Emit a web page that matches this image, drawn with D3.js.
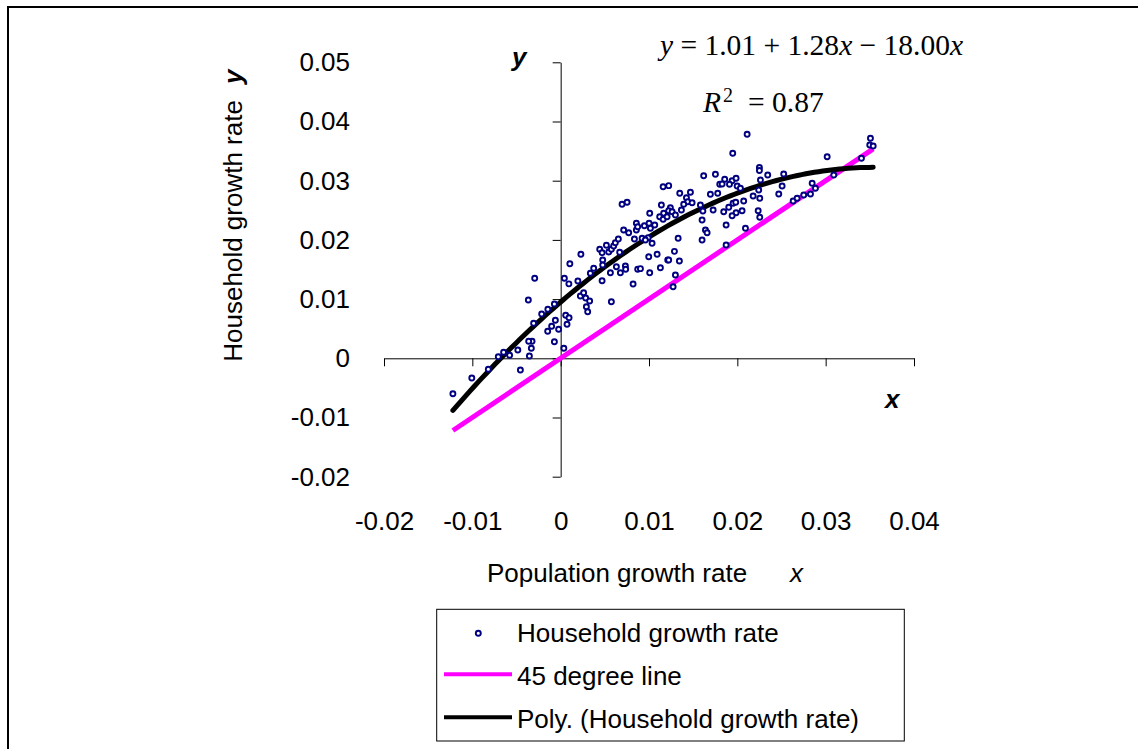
<!DOCTYPE html>
<html><head><meta charset="utf-8">
<script src="https://cdn.jsdelivr.net/npm/d3@7/dist/d3.min.js"></script>
<style>
body{margin:0;background:#fff}
svg{display:block}
text{font-family:"Liberation Sans",Arial,sans-serif;fill:#000}
.eq{font-family:"Liberation Serif","Times New Roman",serif}
</style>
</head><body>
<svg id="chart" width="1138" height="749"></svg>
<script>
// ---- data ----
const popGrowth = [
-0.01220,-0.01006,-0.00819,-0.00706,-0.00646,-0.00578,-0.00485,-0.00456,-0.00354,-0.00332,
-0.00324,-0.00362,-0.00366,-0.00294,-0.00306,-0.00215,-0.00145,-0.00071,-0.00147,-0.00102,
-0.00060,-0.00023,-0.00071,0.00042,0.00093,0.00104,0.00195,0.00229,0.00057,0.00095,
0.00072,0.00036,0.00442,0.00469,0.00518,0.00544,0.00574,0.00600,0.00619,0.00653,
0.00668,0.00713,0.00770,0.00857,0.00835,0.00990,0.01035,0.00476,0.00374,0.00336,
0.00476,0.00563,0.00631,0.00676,0.00733,0.00736,0.00872,0.00903,0.00997,0.01092,
0.01008,0.01129,0.01212,0.00469,0.00820,0.00223,0.00260,0.00283,0.00328,0.00291,
0.00306,0.00574,0.01619,0.01752,0.01801,0.01160,0.01223,0.00695,0.00752,0.01348,
0.01424,0.01469,0.01438,0.01488,0.01393,0.01582,0.01610,0.01695,0.01778,0.01726,
0.01140,0.01008,0.01242,0.01223,0.01262,0.01166,0.01121,0.01160,0.01205,0.01299,
0.01367,0.00857,0.00872,0.00948,0.01001,0.01016,0.01065,0.00922,0.00959,0.01330,
0.01639,0.01658,0.01601,0.01288,0.01223,0.01344,0.01299,0.01273,0.01873,0.02111,
0.01948,0.03017,0.02250,0.02250,0.02344,0.02525,0.02262,0.01857,0.01941,0.01986,
0.01828,0.01911,0.01998,0.02035,0.02242,0.02179,0.02254,0.02072,0.01952,0.01982,
0.01903,0.02054,0.01986,0.01941,0.01846,0.02236,0.02254,0.02507,0.02469,0.02847,
0.02884,0.02752,0.02828,0.02632,0.02677,0.03092,0.01601,0.01873,0.02092,0.03405,
0.03507,0.03499,0.03538
];
const hhGrowth = [
-0.00600,-0.00333,-0.00186,0.00027,0.00103,0.00052,0.00140,-0.00198,0.00039,0.00169,
0.00287,0.00287,0.00985,0.01353,0.00591,0.00748,0.00828,0.00917,0.00456,0.00541,
0.00642,0.00490,0.00280,0.01351,0.01258,0.01598,0.01306,0.01758,0.00726,0.00684,
0.00576,0.00169,0.01841,0.01784,0.01909,0.01796,0.01841,0.01897,0.01953,0.02015,
0.01791,0.02167,0.02122,0.02167,0.02015,0.02037,0.01943,0.01660,0.01520,0.01436,
0.01576,0.01446,0.01547,0.01446,0.01559,0.01503,0.01503,0.01514,0.01716,0.01757,
0.01446,0.01530,0.01660,0.01311,0.01255,0.01052,0.01108,0.01019,0.00968,0.00872,
0.00787,0.00956,0.03084,0.03108,0.02939,0.02899,0.02916,0.02601,0.02635,0.02787,
0.02713,0.02804,0.02645,0.02628,0.02601,0.02590,0.02488,0.02770,0.02787,0.02505,
0.02590,0.02449,0.02544,0.02493,0.02476,0.02449,0.02392,0.02348,0.02392,0.02421,
0.02505,0.02280,0.02223,0.02240,0.02280,0.02196,0.02252,0.02027,0.01998,0.02027,
0.02167,0.02122,0.01998,0.01807,0.01660,0.01644,0.01407,0.01209,0.01914,0.03784,
0.03463,0.03405,0.03223,0.03172,0.03096,0.03113,0.03012,0.03024,0.03000,0.03041,
0.02944,0.02939,0.02910,0.02872,0.02843,0.02742,0.02703,0.02657,0.02618,0.02635,
0.02551,0.02493,0.02459,0.02409,0.02476,0.02493,0.02382,0.02910,0.02775,0.02956,
0.02872,0.02758,0.02775,0.02657,0.02703,0.03096,0.02336,0.02252,0.02196,0.03378,
0.03716,0.03603,0.03586
];
const trendCoef = [0.0095, 1.28, -18.0];
const xTickValues = [-0.02,-0.01,0,0.01,0.02,0.03,0.04];
const xTickLabels = ["-0.02","-0.01","0","0.01","0.02","0.03","0.04"];
const yTickValues = [-0.02,-0.01,0,0.01,0.02,0.03,0.04,0.05];
const yTickLabels = ["-0.02","-0.01","0","0.01","0.02","0.03","0.04","0.05"];
const seriesNames = ["Household growth rate","45 degree line","Poly. (Household growth rate)"];
const xTitle = "Population growth rate";
const yTitle = "Household growth rate";
const r2Value = "0.87";

// ---- chart ----
const svg = d3.select("#chart");
const x = d3.scaleLinear().domain([-0.02,0.04]).range([384,914]);
const y = d3.scaleLinear().domain([-0.02,0.05]).range([476.7,62.3]);
const FONT = 26;

// outer chart border (left & top visible)
svg.append("rect").attr("x",8).attr("y",7).attr("width",1140).attr("height",800)
  .attr("fill","none").attr("stroke","#000").attr("stroke-width",2);

// axes through origin
const gx = svg.append("g").attr("transform",`translate(0,${y(0)})`)
  .call(d3.axisBottom(x).tickValues(xTickValues).tickSize(8).tickSizeOuter(0).tickFormat(""));
const gy = svg.append("g").attr("transform",`translate(${x(0)},0)`)
  .call(d3.axisLeft(y).tickValues(yTickValues).tickSize(8).tickSizeOuter(0).tickFormat(""));
[gx,gy].forEach(g=>{g.selectAll("path,line").attr("stroke","#000").attr("stroke-width",1);});

// tick labels at low position
const lx = svg.append("g").attr("transform","translate(0,511.5)")
  .call(d3.axisBottom(x).tickValues(xTickValues).tickSize(0).tickPadding(0)
    .tickFormat((d,i)=>xTickLabels[i]));
lx.select(".domain").remove();
lx.selectAll("text").attr("font-size",FONT).attr("font-family","Liberation Sans, Arial, sans-serif").attr("fill","#000");
const ly = svg.append("g").attr("transform","translate(350,0)")
  .call(d3.axisLeft(y).tickValues(yTickValues).tickSize(0).tickPadding(0)
    .tickFormat((d,i)=>yTickLabels[i]));
ly.select(".domain").remove();
ly.selectAll("text").attr("font-size",FONT).attr("font-family","Liberation Sans, Arial, sans-serif").attr("fill","#000");

// axis titles
svg.append("text").attr("x",487).attr("y",582).attr("font-size",FONT).text(xTitle);
svg.append("text").attr("x",790).attr("y",582).attr("font-size",FONT).attr("font-style","italic").text("x");
svg.append("text").attr("transform","translate(241.7,361.7) rotate(-90)").attr("font-size",FONT).text(yTitle);
svg.append("text").attr("transform","translate(241.7,84) rotate(-90)").attr("font-size",FONT)
  .attr("font-weight","bold").attr("font-style","italic").text("y");
svg.append("text").attr("x",512).attr("y",66).attr("font-size",FONT)
  .attr("font-weight","bold").attr("font-style","italic").text("y");
svg.append("text").attr("x",885).attr("y",408).attr("font-size",FONT)
  .attr("font-weight","bold").attr("font-style","italic").text("x");

// data
const pts = popGrowth.map((v,i)=>({x:v,y:hhGrowth[i]}));
const ext = d3.extent(popGrowth);
const trend = d3.range(0,101).map(i=>{const xv=ext[0]+(ext[1]-ext[0])*i/100;
  return {x:xv,y:trendCoef[0]+trendCoef[1]*xv+trendCoef[2]*xv*xv};});
const line = d3.line().x(d=>x(d.x)).y(d=>y(d.y));

// 45 degree line
svg.append("path").datum(ext.map(v=>({x:v,y:v}))).attr("d",line)
  .attr("stroke","#FF00FF").attr("stroke-width",5).attr("fill","none");
// trendline
svg.append("path").datum(trend).attr("d",line)
  .attr("stroke","#000").attr("stroke-width",5).attr("fill","none").attr("stroke-linecap","round");
// scatter points
svg.append("g").selectAll("circle").data(pts).join("circle")
  .attr("cx",d=>x(d.x)).attr("cy",d=>y(d.y)).attr("r",2.5)
  .attr("fill","#fff").attr("stroke","#000080").attr("stroke-width",1.9);

// equation
const eq = svg.append("text").attr("class","eq").attr("x",660).attr("y",55).attr("font-size",29.5);
eq.append("tspan").attr("font-style","italic").text("y");
eq.append("tspan").text(" = 1.01 + 1.28");
eq.append("tspan").attr("font-style","italic").text("x");
eq.append("tspan").text(" \u2212 18.00");
eq.append("tspan").attr("font-style","italic").text("x");
const r2 = svg.append("text").attr("class","eq").attr("font-size",29.5);
r2.append("tspan").attr("x",703).attr("y",111.7).attr("font-style","italic").text("R");
r2.append("tspan").attr("x",723).attr("y",101.7).attr("font-size",20).text("2");
r2.append("tspan").attr("x",748).attr("y",111.7).text("= " + r2Value);

// legend
const lg = svg.append("g");
lg.append("rect").attr("x",436.7).attr("y",609.3).attr("width",467.6).attr("height",131.7)
  .attr("fill","#fff").attr("stroke","#000").attr("stroke-width",1);
lg.append("circle").attr("cx",478.3).attr("cy",633.3).attr("r",2.5)
  .attr("fill","#fff").attr("stroke","#000080").attr("stroke-width",1.9);
lg.append("line").attr("x1",444).attr("x2",512).attr("y1",674.3).attr("y2",674.3)
  .attr("stroke","#FF00FF").attr("stroke-width",4);
lg.append("line").attr("x1",444).attr("x2",512).attr("y1",717.3).attr("y2",717.3)
  .attr("stroke","#000").attr("stroke-width",4);
const ly0=[641.7,685,728.3];
seriesNames.forEach((n,i)=>lg.append("text").attr("x",517).attr("y",ly0[i]).attr("font-size",FONT).text(n));
</script>
</body></html>
